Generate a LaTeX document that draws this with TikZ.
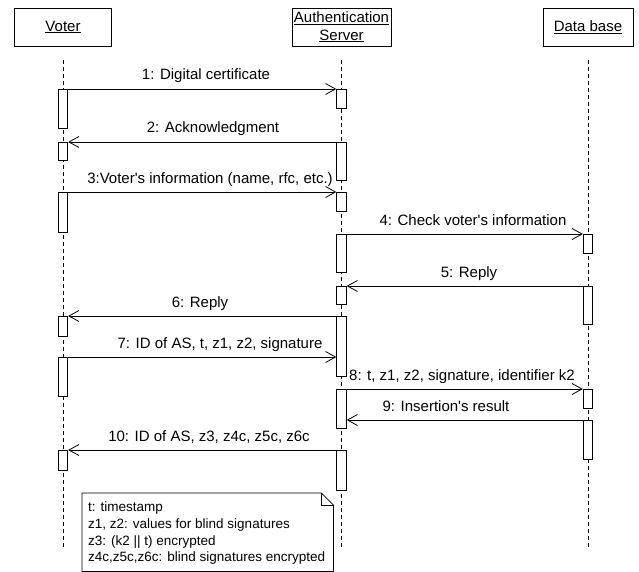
\documentclass[tikz,border=0pt]{standalone}
\usepackage{fontspec}
\setmainfont{Liberation Sans}[Ligatures=TeXOff]
\usetikzlibrary{arrows.meta,calc}
\begin{document}
\begin{tikzpicture}[x=1pt,y=-1pt,
  hdr/.style={draw, line width=0.8pt, minimum width=97pt, minimum height=38pt, inner sep=0pt, align=center, font=\fontsize{15}{17.5}\selectfont},
  life/.style={draw, dash pattern=on 4pt off 3pt, line width=0.7pt},
  actbar/.style={draw, fill=white, line width=0.8pt, minimum width=9.5pt, inner sep=0pt, anchor=north},
  msg/.style={line width=0.8pt, -{Straight Barb[length=10pt,width=11pt,line width=0.8pt]}},
  lbl/.style={anchor=base, inner sep=0pt, font=\fontsize{15}{17}\selectfont},
  notetext/.style={anchor=base west, inner sep=0pt, font=\fontsize{13.5}{16}\selectfont}
]
\useasboundingbox (0,0) rectangle (639,572);
% headers
\node[hdr] (voter) at (63,27) {\underline{Voter}};
\node[hdr, minimum width=99pt] (as) at (341.5,27) {\underline{Authentication}\\\underline{Server}};
\node[hdr, minimum width=90pt] (db) at (588,27) {\underline{Data base}};
% lifelines
\coordinate (vtop) at (63,60);  \coordinate (vbot) at (63,549);
\coordinate (atop) at (341.5,60); \coordinate (abot) at (341.5,549);
\coordinate (dtop) at (588,60); \coordinate (dbot) at (588,549);
\draw[life] (vtop) -- (vbot);
\draw[life] (atop) -- (abot);
\draw[life] (dtop) -- (dbot);
% activation bars
\node[actbar, minimum height=39pt] (v1) at (63,89) {};
\node[actbar, minimum height=19pt] (a1) at (341.5,89) {};
\node[actbar, minimum height=38pt] (a2) at (341.5,142) {};
\node[actbar, minimum height=18pt] (v2) at (63,142) {};
\node[actbar, minimum height=40pt] (v3) at (63,192) {};
\node[actbar, minimum height=19pt] (a3) at (341.5,192) {};
\node[actbar, minimum height=38pt] (a4) at (341.5,234) {};
\node[actbar, minimum height=19pt] (d1) at (588,234) {};
\node[actbar, minimum height=38pt] (d2) at (588,286) {};
\node[actbar, minimum height=18pt] (a5) at (341.5,286) {};
\node[actbar, minimum height=60pt] (a6) at (341.5,316) {};
\node[actbar, minimum height=20pt] (v4) at (63,316) {};
\node[actbar, minimum height=39pt] (v5) at (63,357) {};
\node[actbar, minimum height=39pt] (a7) at (341.5,389) {};
\node[actbar, minimum height=19pt] (d3) at (588,389) {};
\node[actbar, minimum height=39pt] (d4) at (588,420) {};
\node[actbar, minimum height=40pt] (a8) at (341.5,450) {};
\node[actbar, minimum height=20pt] (v6) at (63,450) {};
% messages
\draw[msg] (v1.north east) -- (a1.north west);
\draw[msg] (a2.north west) -- (v2.north east);
\draw[msg] (v3.north east) -- (a3.north west);
\draw[msg] (a4.north east) -- (d1.north west);
\draw[msg] (d2.north west) -- (a5.north east);
\draw[msg] (a6.north west) -- (v4.north east);
\draw[msg] (v5.north east) -- (v5.north east -| a6.west);
\draw[msg] (a7.north east) -- (d3.north west);
\draw[msg] (d4.north west) -- (d4.north west -| a7.east);
\draw[msg] (a8.north west) -- (v6.north east);
% labels
\node[lbl] (l1) at (206,80) {1: Digital certificate};
\node[lbl] (l2) at (213,133) {2: Acknowledgment};
\node[lbl] (l3) at (210,183) {3:Voter's information (name, rfc, etc.)};
\node[lbl] (l4) at (473,225) {4: Check voter's information};
\node[lbl] (l5) at (469,277) {5: Reply};
\node[lbl] (l6) at (200,307) {6: Reply};
\node[lbl] (l7) at (220,348) {7: ID of AS, t, z1, z2, signature};
\node[lbl] (l8) at (462,380) {8: t, z1, z2, signature, identifier k2};
\node[lbl] (l9) at (446,411) {9: Insertion's result};
\node[lbl] (l10) at (209,441) {10: ID of AS, z3, z4c, z5c, z6c};
% note
\node[minimum width=251pt, minimum height=78pt, anchor=north west, inner sep=0pt] (note) at (82,493) {};
\draw[line width=0.8pt, fill=white] (note.north west) -- ($(note.north east)+(-12,0)$) -- ($(note.north east)+(0,12)$) -- (note.south east) -- (note.south west) -- cycle;
\draw[line width=0.8pt] ($(note.north east)+(-12,0)$) -- ($(note.north east)+(-12,12)$) -- ($(note.north east)+(0,12)$);
\node[notetext] (n1) at (88,511.5) {t: timestamp};
\node[notetext] (n2) at (88,528) {z1, z2: values for blind signatures};
\node[notetext] (n3) at (88,545) {z3: (k2 || t) encrypted};
\node[notetext] (n4) at (88,561.5) {z4c,z5c,z6c: blind signatures encrypted};
\end{tikzpicture}
\end{document}
